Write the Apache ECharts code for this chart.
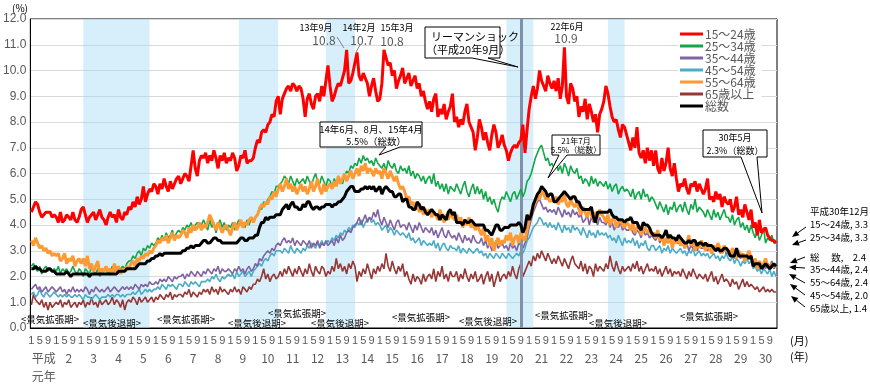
<!DOCTYPE html>
<html><head><meta charset="utf-8">
<script src="https://cdn.jsdelivr.net/npm/echarts@6/dist/echarts.min.js"></script>
<style>html,body{margin:0;padding:0;background:#fff}#c{width:870px;height:388px}</style>
</head><body><div id="c"></div>
<script>
// ---- tick labels ----
const yearLabels = ['平成\n元年','2','3','4','5','6','7','8','9','10','11','12','13','14','15','16','17','18','19','20','21','22','23','24','25','26','27','28','29','30'];
const monthTicks = ['1','5','9'];
const seriesNames = ['15～24歳','25～34歳','35～44歳','45～54歳','55～64歳','65歳以上','総数'];

// ---- series values (monthly, 平成元年1月〜平成30年12月) ----
const age15_24 = [
4.5,4.7,4.9,4.8,4.5,4.3,4.4,4.5,4.5,4.5,4.3,4.4,
4.3,4.1,4.5,4.1,4.2,4.4,4.3,4.2,4.5,4.2,4.1,4.3,
4.6,4.7,4.4,4.1,4.3,4.4,4.5,4.2,4.4,4.6,4.3,4.2,
4.0,4.3,4.5,4.3,4.4,4.1,4.6,4.3,4.2,4.5,4.4,4.7,
4.6,4.9,4.7,5.1,4.8,5.0,5.5,4.9,5.2,5.4,5.3,5.6,
5.5,5.2,5.6,5.4,5.8,5.5,5.3,5.7,5.4,5.6,5.8,5.9,
5.6,5.8,6.0,5.9,5.7,6.3,6.9,6.2,5.9,6.5,6.7,6.6,
6.8,6.4,6.7,6.5,6.9,6.6,6.2,6.7,6.5,6.8,6.4,6.6,
6.5,6.8,6.6,6.1,6.3,6.7,6.6,6.9,6.4,6.5,6.5,6.6,
7.0,7.3,7.2,7.6,7.7,7.6,7.9,8.0,8.3,8.2,8.8,9.0,
8.3,8.9,9.1,9.3,9.4,9.2,9.5,9.4,9.2,9.4,9.3,8.9,
8.2,8.9,9.1,8.7,8.5,9.0,9.1,8.8,9.4,9.0,9.6,10.2,
9.4,8.8,9.0,9.3,9.5,9.4,9.7,10.0,10.8,9.5,9.6,9.9,
10.3,10.7,9.8,9.6,9.9,9.7,9.5,9.0,9.4,9.7,9.2,8.8,
8.9,9.5,10.8,10.5,10.2,10.3,9.8,10.0,9.3,9.6,9.8,10.1,
9.5,9.7,9.9,9.4,9.6,9.8,9.3,9.5,9.0,9.2,8.8,8.5,
8.8,8.4,8.9,9.1,8.2,8.5,8.3,8.7,8.1,8.4,8.6,9.1,
8.0,8.2,7.8,8.1,7.9,8.4,8.7,8.0,7.8,7.6,6.9,7.4,
8.1,7.8,7.3,7.6,7.2,6.9,7.5,7.9,7.6,7.0,7.2,7.5,
7.1,6.9,6.5,6.8,7.0,7.1,7.0,7.2,7.3,7.9,6.8,7.7,
8.5,9.0,9.4,8.9,9.3,10.0,9.6,9.4,9.2,9.8,9.5,9.3,
9.6,9.2,9.7,8.9,9.4,10.9,9.0,8.7,9.5,9.3,8.8,9.0,
8.2,8.6,8.4,8.9,8.1,8.7,8.4,8.0,8.3,7.6,8.3,8.5,
8.8,9.4,9.1,8.6,8.2,8.0,8.1,7.7,7.4,7.9,7.8,7.5,
7.2,6.9,7.4,7.0,7.8,6.8,6.6,6.9,6.4,7.0,6.5,6.9,
6.3,6.9,6.2,6.0,6.6,6.1,6.4,7.0,6.2,5.9,6.4,5.8,
5.3,5.6,5.5,5.8,5.4,5.2,5.6,5.5,5.7,5.3,5.6,5.4,
5.2,5.4,5.8,5.0,5.1,4.9,5.3,5.0,5.2,4.7,5.1,4.9,
4.8,5.0,4.5,4.7,5.1,4.4,4.6,4.3,4.8,4.5,4.2,4.6,
3.9,4.1,3.6,4.2,3.7,3.8,3.9,3.6,3.5,3.4,3.4,3.3];
const age25_34 = [
2.4,2.5,2.3,2.2,2.4,2.1,2.3,2.4,2.2,2.3,2.2,2.3,
2.2,2.4,2.1,2.3,2.2,2.3,2.1,2.2,2.4,2.2,2.1,2.3,
2.2,2.0,2.3,2.2,2.1,2.4,2.2,2.1,2.3,2.0,2.2,2.2,
2.3,2.1,2.2,2.4,2.2,2.3,2.1,2.3,2.4,2.3,2.5,2.6,
2.6,2.8,2.7,2.9,3.0,2.8,3.1,3.0,3.2,3.1,3.3,3.2,
3.3,3.5,3.4,3.6,3.4,3.7,3.5,3.6,3.8,3.5,3.7,3.8,
3.7,3.9,3.8,4.0,3.9,4.1,3.8,4.0,4.1,3.9,4.0,4.2,
4.0,3.8,4.2,3.9,4.1,3.7,4.0,4.2,3.9,4.1,3.8,4.0,
3.9,4.1,3.8,4.0,4.2,4.0,4.1,3.9,4.2,4.0,4.3,4.2,
4.3,4.4,4.7,4.6,4.9,4.8,5.0,5.1,5.3,5.2,5.5,5.5,
5.6,5.7,5.9,5.8,5.6,5.9,5.7,5.5,5.8,5.6,5.7,5.8,
5.6,5.9,5.7,5.5,5.8,6.0,5.7,5.6,5.9,5.7,5.5,5.8,
5.7,5.5,5.8,5.6,5.9,5.7,5.6,5.9,6.1,6.0,6.3,6.2,
6.4,6.3,6.6,6.4,6.7,6.5,6.6,6.4,6.5,6.3,6.6,6.4,
6.3,6.2,6.4,6.1,6.5,6.3,6.2,6.4,6.1,6.0,6.3,6.1,
6.2,6.0,6.3,5.9,6.1,5.8,6.0,5.9,5.7,5.9,5.6,5.8,
5.9,5.6,6.0,5.5,5.7,5.4,5.6,5.3,5.6,5.2,5.5,5.4,
5.3,5.6,5.4,5.2,5.5,5.7,5.3,5.1,5.4,5.6,5.2,5.5,
5.2,5.4,5.0,5.3,4.9,5.1,4.8,5.0,4.7,4.5,4.9,5.1,
5.0,5.3,5.1,4.9,5.2,5.3,5.0,5.2,5.4,5.1,5.3,5.7,
5.8,6.0,6.3,6.6,6.8,7.0,7.1,6.8,6.5,6.6,6.3,6.4,
6.2,6.5,6.1,6.3,6.0,6.4,6.2,5.9,6.3,6.1,6.0,6.2,
5.8,5.9,5.6,5.8,5.7,5.5,5.9,5.6,5.8,5.5,5.7,5.6,
5.5,5.7,5.4,5.6,5.3,5.5,5.6,5.2,5.4,5.5,5.3,5.4,
5.3,5.1,5.4,5.0,5.2,5.3,5.0,5.4,5.1,5.2,4.9,5.1,
5.0,4.8,4.6,4.9,4.7,4.5,4.8,4.4,4.7,4.6,4.9,4.5,
4.7,4.8,4.5,4.9,4.6,4.4,4.8,4.6,5.0,4.5,4.7,4.6,
4.5,4.3,4.6,4.4,4.2,4.6,4.3,4.5,4.2,4.4,4.6,4.3,
4.3,4.1,4.4,4.0,4.2,4.3,3.9,4.1,3.8,4.0,3.7,4.0,
3.7,3.5,3.8,3.4,3.6,3.9,3.3,3.5,3.4,3.6,3.3,3.3];
const age35_44 = [
1.5,1.6,1.7,1.5,1.6,1.4,1.5,1.6,1.4,1.5,1.6,1.5,
1.4,1.5,1.6,1.4,1.5,1.3,1.5,1.4,1.6,1.4,1.5,1.4,
1.5,1.4,1.6,1.5,1.3,1.5,1.4,1.6,1.5,1.4,1.5,1.4,
1.5,1.6,1.4,1.5,1.6,1.5,1.4,1.5,1.6,1.5,1.6,1.5,
1.6,1.5,1.7,1.6,1.5,1.7,1.6,1.7,1.6,1.8,1.7,1.7,
1.8,1.7,1.9,1.8,1.9,1.8,2.0,1.9,1.8,2.0,1.9,2.0,
2.0,2.1,1.9,2.1,2.0,2.2,2.1,2.0,2.2,2.1,2.0,2.2,
2.1,2.3,2.2,2.1,2.3,2.2,2.4,2.1,2.3,2.2,2.2,2.3,
2.2,2.1,2.3,2.2,2.4,2.2,2.3,2.1,2.3,2.4,2.2,2.3,
2.5,2.4,2.7,2.6,2.8,2.9,3.0,2.9,3.1,3.0,3.2,3.3,
3.2,3.4,3.5,3.3,3.4,3.3,3.5,3.2,3.4,3.3,3.2,3.4,
3.3,3.2,3.4,3.1,3.3,3.2,3.4,3.1,3.3,3.2,3.4,3.2,
3.3,3.4,3.2,3.5,3.3,3.6,3.4,3.5,3.7,3.8,3.7,3.9,
4.0,4.1,4.3,4.0,4.2,4.4,4.1,4.3,4.2,4.5,4.3,4.6,
4.2,4.0,4.3,4.1,3.9,4.2,4.0,3.8,4.1,4.2,3.9,4.0,
4.0,3.8,4.1,3.9,3.7,4.0,3.8,4.1,3.9,3.7,3.9,3.8,
3.7,3.9,3.6,3.8,3.5,3.7,3.9,3.6,3.5,3.8,3.6,3.5,
3.6,3.4,3.7,3.5,3.3,3.6,3.4,3.5,3.3,3.6,3.4,3.3,
3.3,3.5,3.2,3.4,3.1,3.3,3.0,3.2,3.4,3.1,3.2,3.3,
3.1,3.2,3.0,3.3,3.1,3.2,3.0,3.3,3.2,3.1,3.3,3.5,
3.9,4.2,4.5,4.7,4.9,5.0,4.8,4.6,4.7,4.5,4.6,4.5,
4.6,4.4,4.7,4.5,4.3,4.6,4.4,4.5,4.3,4.6,4.4,4.5,
4.3,4.4,4.1,4.2,4.4,4.0,4.3,4.1,4.2,4.0,4.3,4.1,
4.1,4.0,4.2,3.9,4.1,3.8,4.0,3.9,4.1,3.8,3.9,3.8,
3.8,3.9,3.7,3.6,3.8,3.7,3.5,3.8,3.6,3.7,3.5,3.6,
3.5,3.4,3.6,3.3,3.5,3.2,3.4,3.3,3.5,3.2,3.4,3.3,
3.3,3.2,3.4,3.1,3.3,3.0,3.2,3.1,3.3,3.0,3.2,3.1,
3.1,3.2,3.0,3.1,2.9,3.2,3.0,3.1,2.9,3.0,3.1,2.9,
2.9,2.8,3.0,2.7,2.9,2.8,2.7,2.9,2.6,2.8,2.7,2.8,
2.6,2.5,2.4,2.6,2.4,2.5,2.3,2.5,2.4,2.6,2.3,2.4];
const age45_54 = [
1.3,1.4,1.2,1.3,1.5,1.3,1.2,1.4,1.3,1.2,1.3,1.4,
1.3,1.2,1.3,1.2,1.3,1.2,1.3,1.2,1.2,1.3,1.2,1.3,
1.2,1.1,1.3,1.2,1.2,1.1,1.2,1.3,1.2,1.1,1.2,1.2,
1.2,1.3,1.2,1.3,1.2,1.3,1.3,1.2,1.3,1.2,1.3,1.3,
1.3,1.4,1.3,1.4,1.5,1.3,1.4,1.5,1.4,1.5,1.4,1.5,
1.5,1.6,1.5,1.7,1.6,1.5,1.7,1.6,1.7,1.6,1.5,1.7,
1.7,1.6,1.8,1.7,1.6,1.8,1.7,1.8,1.7,1.6,1.8,1.8,
1.8,1.9,1.8,2.0,1.9,2.1,1.9,1.8,2.0,1.9,2.0,2.1,
2.0,2.1,1.9,2.2,2.0,2.1,2.2,2.0,2.1,2.2,2.0,2.2,
2.3,2.4,2.5,2.4,2.6,2.7,2.6,2.8,2.9,2.8,3.0,3.0,
3.0,2.9,3.1,3.0,2.9,3.2,3.0,2.9,3.1,3.0,2.9,3.1,
3.0,3.2,3.1,3.3,3.2,3.1,3.3,3.2,3.4,3.2,3.3,3.4,
3.3,3.5,3.4,3.6,3.5,3.7,3.6,3.8,3.7,3.9,3.8,4.0,
3.9,4.1,4.0,4.2,3.9,4.1,4.2,4.3,4.1,4.2,4.0,4.1,
4.0,3.8,3.9,4.0,3.7,3.9,3.8,3.6,3.8,3.7,3.6,3.7,
3.6,3.5,3.7,3.4,3.5,3.3,3.4,3.5,3.2,3.4,3.3,3.2,
3.3,3.2,3.4,3.1,3.3,3.0,3.2,3.3,3.1,3.0,3.2,3.1,
3.1,3.0,3.2,2.9,3.1,3.0,2.9,3.1,3.0,2.9,3.0,3.1,
2.9,3.0,2.8,2.9,2.7,2.9,2.8,2.7,2.9,2.8,2.7,2.9,
2.8,2.7,2.9,2.8,2.7,2.8,2.9,2.8,3.0,2.9,3.1,3.4,
3.5,3.7,3.9,4.0,4.1,4.3,4.2,4.0,4.1,3.9,4.1,3.9,
4.0,3.8,4.1,3.9,3.7,4.0,3.8,3.9,3.7,4.0,3.8,3.9,
3.8,3.6,3.9,3.7,3.5,3.8,3.6,3.7,3.5,3.8,3.6,3.7,
3.6,3.7,3.5,3.6,3.4,3.5,3.3,3.6,3.4,3.2,3.5,3.3,
3.4,3.3,3.5,3.2,3.4,3.1,3.3,3.2,3.4,3.1,3.0,3.2,
3.2,3.0,3.1,3.2,2.9,3.1,3.0,3.2,2.9,3.1,3.0,2.9,
3.0,3.1,2.9,3.0,2.8,3.0,2.9,3.1,2.8,2.9,3.0,2.8,
2.9,2.8,2.9,2.7,2.8,2.9,2.7,2.8,2.6,2.8,2.7,2.9,
2.7,2.6,2.8,2.5,2.7,2.6,2.4,2.6,2.5,2.7,2.5,2.6,
2.3,2.4,2.2,2.3,2.1,2.3,2.2,2.1,2.3,2.0,2.2,2.0];
const age55_64 = [
3.4,3.2,3.5,3.3,3.1,3.2,3.0,3.1,2.9,3.0,2.8,2.9,
2.8,2.9,2.6,2.7,2.9,2.5,2.7,2.6,2.8,2.4,2.6,2.7,
2.5,2.7,2.4,2.8,2.3,2.5,2.2,2.4,2.6,2.1,2.3,2.2,
2.4,2.2,2.3,2.1,2.5,2.2,2.4,2.1,2.3,2.2,2.4,2.3,
2.5,2.6,2.4,2.7,2.6,2.8,2.7,2.9,2.8,3.0,2.9,3.1,
3.2,3.4,3.3,3.5,3.4,3.6,3.3,3.5,3.7,3.4,3.6,3.5,
3.6,3.8,3.7,3.5,3.9,3.7,4.0,3.8,3.9,4.1,3.8,4.0,
3.9,4.1,4.4,4.2,4.0,3.8,4.1,3.9,3.7,3.9,4.0,3.8,
3.6,3.9,4.1,3.8,4.0,4.2,3.9,4.1,4.0,4.2,4.3,4.1,
4.3,4.4,4.6,4.8,4.7,4.9,4.8,5.1,5.0,5.3,5.1,5.4,
5.6,5.3,5.5,5.8,5.4,5.6,5.3,5.5,5.2,5.4,5.6,5.3,
5.5,5.2,5.4,5.7,5.3,5.5,5.8,5.4,5.2,5.6,5.3,5.5,
5.6,5.4,5.7,5.5,5.9,5.6,5.8,6.0,5.7,5.9,6.1,5.8,
6.0,6.2,5.9,6.3,6.1,6.4,6.0,6.2,6.1,5.9,6.2,6.0,
6.1,5.8,6.2,6.0,5.8,6.1,5.9,5.7,5.9,5.6,5.4,5.5,
5.3,5.0,5.1,4.8,4.9,4.6,4.8,4.5,4.7,4.4,4.6,4.5,
4.6,4.3,4.5,4.4,4.2,4.6,4.3,4.1,4.4,4.2,4.5,4.3,
4.2,4.4,4.1,4.3,3.9,4.2,4.0,4.3,3.9,4.1,3.8,4.0,
3.8,3.6,3.9,3.4,3.6,3.2,3.5,3.0,3.3,3.5,3.2,3.4,
3.3,3.6,3.4,3.7,3.2,3.5,3.6,3.3,3.7,3.5,3.4,3.8,
4.2,4.5,4.7,4.9,5.1,5.0,5.3,5.2,5.0,5.1,4.9,5.0,
4.9,5.1,4.8,5.0,4.9,5.2,4.8,4.7,5.0,4.8,4.7,4.9,
4.6,4.4,4.7,4.5,4.3,4.6,4.4,4.2,4.5,4.3,4.6,4.4,
4.3,4.1,4.4,4.0,4.2,4.3,3.9,4.1,4.2,4.0,3.9,4.1,
4.0,3.8,4.1,3.7,3.9,4.0,3.6,3.8,3.9,3.7,3.8,3.6,
3.7,3.5,3.8,3.4,3.6,3.2,3.5,3.3,3.6,3.1,3.4,3.3,
3.5,3.2,3.4,3.1,3.3,3.6,3.2,3.4,3.0,3.3,3.1,3.4,
3.2,3.0,3.3,3.1,2.9,3.2,3.0,3.3,3.1,2.9,3.2,3.0,
3.0,2.8,3.1,2.9,2.7,3.0,2.8,2.9,2.6,2.8,3.0,2.7,
2.5,2.7,2.3,2.6,2.4,2.5,2.7,2.4,2.3,2.5,2.4,2.4];
const age65plus = [
0.9,1.3,1.1,1.0,0.9,1.1,0.8,1.0,0.7,1.0,0.8,0.9,
1.0,0.9,1.1,0.8,1.0,0.9,1.1,0.8,0.9,1.0,0.8,1.0,
0.9,1.1,0.8,1.0,0.9,1.2,0.9,1.0,0.8,1.1,0.9,1.0,
1.1,0.9,1.0,1.2,0.9,1.1,1.0,0.8,1.1,0.7,1.0,1.1,
1.0,1.2,1.1,0.9,1.2,1.0,1.1,1.2,1.0,1.1,1.2,1.0,
1.2,1.1,1.3,1.2,1.1,1.3,1.2,1.4,1.1,1.3,1.2,1.3,
1.3,1.2,1.4,1.3,1.5,1.2,1.4,1.3,1.2,1.4,1.3,1.5,
1.4,1.5,1.3,1.6,1.4,1.5,1.3,1.6,1.4,1.5,1.4,1.3,
1.5,1.4,1.6,1.4,1.5,1.3,1.6,1.5,1.4,1.6,1.5,1.7,
1.7,1.9,1.8,2.0,2.3,1.9,2.1,1.8,2.0,2.1,1.9,2.0,
2.2,2.0,2.3,2.1,2.4,2.2,2.0,2.3,2.1,2.4,2.2,2.0,
2.3,2.1,2.5,2.2,2.0,2.4,2.2,2.1,2.4,2.3,2.0,2.2,
2.1,2.4,2.2,2.7,2.3,2.5,2.2,2.4,2.1,2.5,2.3,2.6,
2.4,1.8,2.2,2.0,2.3,2.1,2.5,2.2,1.9,2.3,2.1,2.4,
2.2,2.5,2.3,2.9,2.4,2.2,2.6,2.3,2.1,2.4,2.2,2.5,
2.0,2.2,1.9,1.7,2.1,1.8,2.0,1.9,1.7,2.1,1.8,2.0,
2.1,1.9,2.3,1.8,2.2,2.0,2.4,1.9,2.1,1.8,2.2,2.0,
2.0,2.2,1.8,2.1,1.9,2.3,2.0,1.8,2.1,1.9,2.2,1.8,
1.9,2.1,1.7,2.0,2.2,1.8,2.1,1.6,1.9,2.2,1.8,2.0,
2.1,1.9,2.2,2.0,2.4,2.1,1.9,2.3,2.5,2.0,2.2,2.4,
2.6,2.4,2.8,2.6,2.9,2.7,3.0,2.8,2.6,2.9,2.7,2.5,
2.7,2.5,2.8,2.6,2.4,2.7,2.5,2.3,2.6,2.8,2.5,2.4,
2.3,2.6,2.2,2.5,2.1,2.4,2.3,2.0,2.5,2.2,2.4,2.3,
2.2,2.5,2.3,2.8,2.4,2.2,2.6,2.3,2.1,2.4,2.2,2.3,
2.4,2.2,2.5,2.3,2.6,2.2,2.4,2.1,2.3,2.5,2.2,2.3,
2.2,2.4,2.1,2.3,2.0,2.2,2.4,2.1,2.3,2.0,2.2,2.1,
2.2,2.0,2.3,2.1,1.9,2.2,2.0,2.3,2.1,1.9,2.1,2.0,
1.9,2.1,1.8,2.0,2.2,1.8,2.0,1.7,1.9,2.1,1.8,1.9,
1.8,1.6,1.9,1.7,1.8,1.5,1.7,1.9,1.6,1.8,1.6,1.7,
1.6,1.5,1.6,1.4,1.5,1.6,1.4,1.5,1.4,1.5,1.4,1.4];
const totalRate = [
2.3,2.3,2.4,2.3,2.3,2.2,2.2,2.2,2.3,2.3,2.2,2.2,
2.1,2.1,2.1,2.1,2.1,2.2,2.1,2.0,2.1,2.1,2.1,2.1,
2.1,2.1,2.1,2.1,2.0,2.1,2.1,2.1,2.1,2.1,2.1,2.1,
2.1,2.1,2.1,2.1,2.1,2.1,2.2,2.2,2.2,2.2,2.3,2.3,
2.3,2.3,2.3,2.4,2.5,2.5,2.5,2.5,2.6,2.6,2.7,2.7,
2.8,2.8,2.9,2.8,2.9,2.9,2.9,2.9,2.9,2.9,2.9,2.9,
2.9,3.0,3.0,3.1,3.1,3.2,3.1,3.2,3.2,3.2,3.3,3.4,
3.4,3.3,3.3,3.4,3.5,3.5,3.4,3.4,3.3,3.3,3.3,3.3,
3.3,3.3,3.3,3.3,3.4,3.5,3.5,3.4,3.4,3.5,3.5,3.5,
3.6,3.6,3.9,4.1,4.1,4.3,4.2,4.3,4.3,4.3,4.4,4.4,
4.4,4.6,4.7,4.8,4.6,4.8,4.9,4.7,4.7,4.6,4.6,4.8,
4.7,4.9,4.9,4.7,4.6,4.7,4.7,4.6,4.7,4.7,4.8,4.8,
4.8,4.7,4.8,4.8,4.9,4.9,5.0,5.1,5.3,5.4,5.5,5.5,
5.3,5.3,5.3,5.4,5.4,5.5,5.4,5.5,5.4,5.5,5.3,5.4,
5.5,5.2,5.4,5.5,5.4,5.3,5.3,5.1,5.1,5.2,5.2,4.9,
5.0,5.0,4.7,4.7,4.6,4.6,4.9,4.8,4.6,4.7,4.5,4.4,
4.5,4.6,4.5,4.4,4.4,4.2,4.4,4.3,4.2,4.5,4.6,4.4,
4.5,4.1,4.1,4.1,4.0,4.2,4.1,4.1,4.2,4.1,4.0,4.0,
4.0,4.0,4.0,3.8,3.8,3.7,3.6,3.8,4.0,4.0,3.8,3.8,
3.9,3.9,3.9,4.0,4.0,4.0,4.0,4.1,4.0,3.7,3.9,4.4,
4.2,4.4,4.8,5.0,5.2,5.3,5.5,5.4,5.3,5.1,5.2,5.2,
4.9,4.9,5.0,5.1,5.2,5.3,5.2,5.1,5.0,5.1,5.1,4.9,
4.9,4.7,4.6,4.6,4.6,4.6,4.7,4.3,4.1,4.5,4.5,4.5,
4.5,4.5,4.5,4.6,4.4,4.3,4.3,4.2,4.2,4.2,4.1,4.2,
4.2,4.3,4.1,4.1,4.1,3.9,3.8,4.1,4.0,4.0,3.9,3.7,
3.6,3.6,3.6,3.6,3.5,3.6,3.8,3.5,3.6,3.5,3.5,3.4,
3.6,3.5,3.4,3.3,3.3,3.4,3.3,3.4,3.4,3.2,3.3,3.3,
3.2,3.3,3.2,3.2,3.2,3.1,3.0,3.1,3.0,3.0,3.1,3.1,
3.0,2.8,2.8,2.8,3.1,2.8,2.8,2.8,2.8,2.8,2.7,2.8,
2.4,2.5,2.5,2.5,2.3,2.4,2.5,2.4,2.3,2.4,2.5,2.4];

// categories: 'H<year>.<month>'
const categories = [];
for (let y = 1; y <= yearLabels.length; y++) for (let m = 1; m <= 12; m++) categories.push('H' + y + '.' + m);
const monthOf = v => v.split('.')[1];
const yearOf = v => parseInt(v.slice(1), 10);

const FONT = "'Liberation Sans','Noto Sans CJK JP',sans-serif";
const JP = "'Noto Sans CJK JP','Liberation Sans',sans-serif";

const chart = echarts.init(document.getElementById('c'), null, {renderer: 'canvas'});

function txt(x, y, text, size, color, align, weight) {
  return {type: 'text', z: 100, style: {x: x, y: y, text: text, fill: color || '#000',
    font: (weight || 'normal') + ' ' + size + 'px ' + JP, align: align || 'left', verticalAlign: 'middle'}};
}
function bubble(points) {
  return {type: 'polygon', z: 99, shape: {points: points}, style: {fill: '#fff', stroke: '#000', lineWidth: 1}};
}
function seg(x1, y1, x2, y2, color, w) {
  return {type: 'line', z: 100, shape: {x1: x1, y1: y1, x2: x2, y2: y2}, style: {stroke: color || '#000', lineWidth: w || 1}};
}
function arrow(x1, y1, x2, y2) {
  const a = Math.atan2(y2 - y1, x2 - x1), L = 7, W = 3;
  const bx = x2 - L * Math.cos(a), by = y2 - L * Math.sin(a);
  const px = -Math.sin(a) * W, py = Math.cos(a) * W;
  return [seg(x1, y1, bx, by, '#000', 1),
    {type: 'polygon', z: 100, shape: {points: [[x2, y2], [bx + px, by + py], [bx - px, by - py]]}, style: {fill: '#000'}}];
}

const recessions = [[25, 57], [100, 119], [142, 156], [229, 242], [278, 286]];
const lehmanIndex = 236;

const graphics = [
  txt(12, 8, '(%)', 10, '#000'),
  txt(790, 341, '(月)', 11, '#000'),
  txt(790, 357, '(年)', 11, '#000'),
  // peak labels
  txt(316, 28, '13年9月', 9, '#000', 'center'), txt(324, 40, '10.8', 12, '#595959', 'center'),
  txt(359, 28, '14年2月', 9, '#000', 'center'), txt(362, 40, '10.7', 12, '#595959', 'center'),
  txt(397, 28, '15年3月', 9, '#000', 'center'), txt(392, 41, '10.8', 12, '#595959', 'center'),
  txt(567, 27, '22年6月', 9, '#000', 'center'), txt(566, 38, '10.9', 12, '#595959', 'center'),
  seg(337, 37, 344, 48, '#808080', 1), seg(360, 45, 356, 52, '#808080', 1),
  // callouts
  bubble([[425,27],[500,27],[500,58],[488,58],[518,67],[472,58],[425,58]]),
  txt(431, 37, 'リーマンショック', 11, '#000'),
  txt(426, 50, '（平成20年9月）', 11, '#000'),
  bubble([[320,122],[422,122],[422,147],[400,147],[379,155],[386,147],[320,147]]),
  txt(371, 129, '14年6月、8月、15年4月', 9.5, '#000', 'center'),
  txt(376, 141, '5.5%（総数）', 9.5, '#000', 'center'),
  bubble([[552,135],[600,135],[600,155],[567,155],[548,178],[559,155],[552,155]]),
  txt(576, 141, '21年7月', 8, '#000', 'center'),
  txt(576, 150, '5.5%（総数）', 8, '#000', 'center'),
  bubble([[703,130],[767,130],[767,157],[757,157],[762,213],[741,157],[703,157]]),
  txt(735, 138, '30年5月', 9, '#000', 'center'),
  txt(735, 151, '2.3%（総数）', 9, '#000', 'center'),
  // business cycle labels
  txt(50, 319, '<景気拡張期>', 9.5, '#000', 'center'),
  txt(112, 323, '<景気後退期>', 9.5, '#000', 'center'),
  txt(186, 319, '<景気拡張期>', 9.5, '#000', 'center'),
  txt(257, 323, '<景気後退期>', 9.5, '#000', 'center'),
  txt(297, 313, '<景気拡張期>', 9.5, '#000', 'center'),
  txt(340, 323, '<景気後退期>', 9.5, '#000', 'center'),
  txt(421, 317, '<景気拡張期>', 9.5, '#000', 'center'),
  txt(488, 321, '<景気後退期>', 9.5, '#000', 'center'),
  txt(564, 315, '<景気拡張期>', 9.5, '#000', 'center'),
  txt(618, 323, '<景気後退期>', 9.5, '#000', 'center'),
  txt(709, 316, '<景気拡張期>', 9.5, '#000', 'center'),
  // end values
  txt(810, 211, '平成30年12月', 9.5, '#000'),
  txt(810, 224, '15～24歳, 3.3', 9.5, '#000'),
  txt(810, 237, '25～34歳, 3.3', 9.5, '#000'),
  txt(810, 257, '総　 数,　2.4', 9.5, '#000'),
  txt(810, 269, '35～44歳, 2.4', 9.5, '#000'),
  txt(810, 282, '55～64歳, 2.4', 9.5, '#000'),
  txt(810, 295, '45～54歳, 2.0', 9.5, '#000'),
  txt(810, 308, '65歳以上, 1.4', 9.5, '#000')
].concat(arrow(806, 227, 792, 237), arrow(806, 240, 792, 245), arrow(805, 257, 790, 263),
  arrow(805, 268, 789, 267), arrow(805, 283, 789, 274), arrow(805, 295, 790, 284), arrow(805, 307, 791, 296));

const colors = ['#ff0000', '#12a84a', '#8064a2', '#4bacc6', '#ff9933', '#953735', '#000000'];
const widths = [3, 1.6, 1.6, 1.6, 3, 1.6, 3];
const zs = [9, 5, 4, 3, 6, 2, 8];
const values = [age15_24, age25_34, age35_44, age45_54, age55_64, age65plus, totalRate];

const series = [{
  name: 'bands', type: 'line', data: [], z: 1, silent: true,
  markArea: {silent: true, itemStyle: {color: 'rgba(160,216,242,0.42)'},
    data: recessions.map(r => [{xAxis: categories[r[0]]}, {xAxis: categories[r[1]]}])},
  markLine: {silent: true, symbol: ['none', 'none'], label: {show: false},
    lineStyle: {color: '#8090a8', width: 3, type: 'solid'},
    data: [{xAxis: categories[lehmanIndex]}]}
}].concat(seriesNames.map((n, i) => ({
  name: n, type: 'line', data: values[i], symbol: 'none', showSymbol: false, z: zs[i],
  lineStyle: {color: colors[i], width: widths[i]}, itemStyle: {color: colors[i]}
})));

chart.setOption({
  animation: false,
  textStyle: {fontFamily: FONT},
  grid: {left: 26, top: 19, right: 93, bottom: 60, show: true, borderColor: '#000', borderWidth: 1, backgroundColor: 'transparent'},
  legend: {
    data: seriesNames.map(n => ({name: n, icon: 'rect'})), orient: 'vertical', left: 678, top: 26,
    itemWidth: 23, itemHeight: 3, itemGap: 0,
    padding: [2, 6, 2, 2], backgroundColor: '#fff',
    textStyle: {fontSize: 12, color: '#595959', fontFamily: JP, lineHeight: 10.7, padding: [0, 0, 0, -3]}
  },
  xAxis: [{
    type: 'category', data: categories, boundaryGap: true,
    axisLine: {show: true, lineStyle: {color: '#000', width: 1}}, axisTick: {show: false},
    axisLabel: {interval: (i, v) => monthTicks.indexOf(monthOf(v)) >= 0, formatter: v => monthOf(v),
      fontSize: 11, color: '#595959', margin: 7}
  }, {
    type: 'category', data: categories, boundaryGap: true, position: 'bottom', offset: 15,
    axisLine: {show: false}, axisTick: {show: false},
    axisLabel: {interval: (i, v) => monthOf(v) === '7', formatter: v => yearLabels[yearOf(v) - 1],
      fontSize: 12, color: '#595959', margin: 6, lineHeight: 18, fontFamily: JP}
  }],
  yAxis: {
    type: 'value', min: 0, max: 12, interval: 1,
    axisLine: {show: true, lineStyle: {color: '#000'}}, axisTick: {show: false},
    axisLabel: {formatter: v => v.toFixed(1), fontSize: 12, color: '#595959', margin: 4},
    splitLine: {lineStyle: {color: '#d9d9d9', width: 1}}
  },
  series: series,
  graphic: graphics
});
</script></body></html>
